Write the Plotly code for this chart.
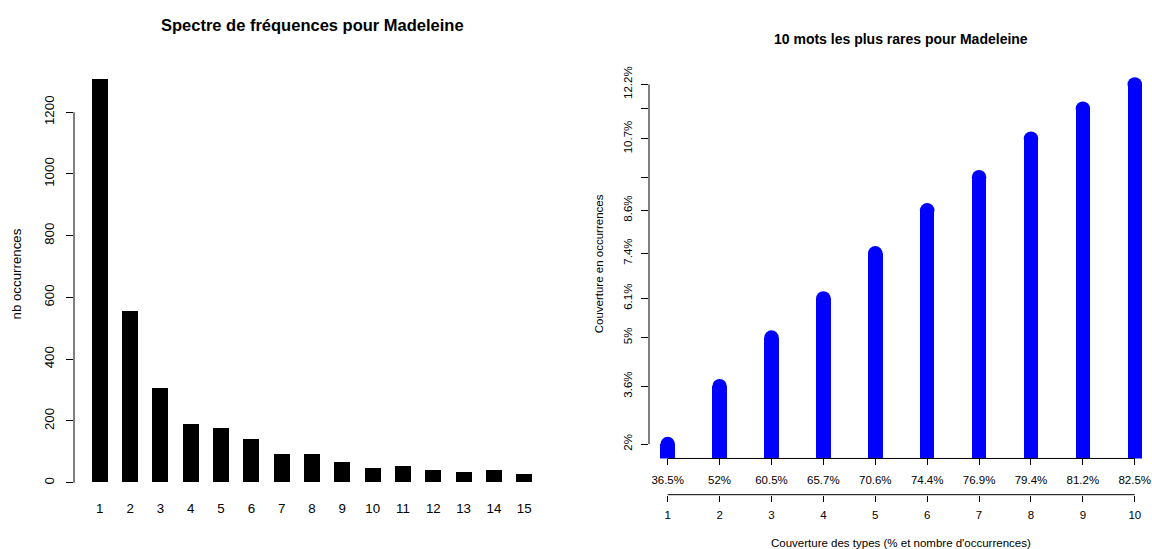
import plotly.graph_objects as go

W, H = 1152, 549

# ---------------- data ----------------
freq_categories = list(range(1, 16))
freq_counts = [1306, 555, 306, 188, 176, 140, 92, 93, 67, 48, 52, 41, 34, 40, 26]
freq_yticks = [0, 200, 400, 600, 800, 1000, 1200]

rare_ranks = list(range(1, 11))
rare_coverage_occ = [2.0, 3.64, 5.02, 6.13, 7.41, 8.63, 9.57, 10.66, 11.51, 12.2]
rare_ytick_labels = ["2%", "3.6%", "5%", "6.1%", "7.4%", "8.6%", "", "10.7%", "", "12.2%"]
rare_type_labels = ["36.5%", "52%", "60.5%", "65.7%", "70.6%", "74.4%", "76.9%", "79.4%", "81.2%", "82.5%"]
rare_rank_labels = [str(r) for r in rare_ranks]

FONT = "Liberation Sans, Arial, Helvetica, sans-serif"

def px_x(p):
    return p / W

def px_y(p):
    return (H - p) / H

fig = go.Figure()

# left: frequency spectrum bars
fig.add_trace(go.Bar(x=freq_categories, y=freq_counts, width=0.53,
                     marker=dict(color="black", line=dict(width=0)),
                     xaxis="x", yaxis="y", hoverinfo="skip", showlegend=False))

# right: rare words coverage (type="h" style with round caps)
fig.add_trace(go.Bar(x=rare_ranks, y=rare_coverage_occ, width=0.28,
                     marker=dict(color="#0000FF", line=dict(width=0)),
                     xaxis="x2", yaxis="y2", hoverinfo="skip", showlegend=False))
fig.add_trace(go.Scatter(x=rare_ranks, y=rare_coverage_occ, mode="markers",
                         marker=dict(color="#0000FF", size=14.5, line=dict(width=0)),
                         cliponaxis=False, xaxis="x2", yaxis="y2",
                         hoverinfo="skip", showlegend=False))
# invisible trace to carry the second x axis (ranks)
fig.add_trace(go.Scatter(x=rare_ranks, y=rare_coverage_occ, mode="markers",
                         marker=dict(opacity=0), xaxis="x3", yaxis="y2",
                         hoverinfo="skip", showlegend=False))

fmax = max(freq_counts)
rmin, rmax = min(rare_coverage_occ), max(rare_coverage_occ)
rspan = rmax - rmin

tickfont_l = dict(family=FONT, size=13.3, color="black")
tickfont_r = dict(family=FONT, size=11.5, color="black")

x2_range = [0.64, 10.332]
axis2_pos = px_y(494.3)

fig.update_layout(
    width=W, height=H, autosize=False,
    margin=dict(l=0, r=0, t=0, b=0),
    paper_bgcolor="white", plot_bgcolor="white",
    bargap=0,
    xaxis=dict(domain=[px_x(74), px_x(550)], range=[0.15, 15.85],
               tickvals=freq_categories, ticktext=[str(c) for c in freq_categories],
               ticks="", showline=False, showgrid=False, zeroline=False,
               tickfont=tickfont_l, ticklabelstandoff=0, anchor="y"),
    yaxis=dict(domain=[px_y(498.5), px_y(59.8)], range=[-0.04 * fmax, 1.04 * fmax],
               tickvals=freq_yticks, ticktext=[str(v) for v in freq_yticks],
               ticks="outside", ticklen=7, tickwidth=1, tickcolor="black",
               tickangle=-90, showline=False, showgrid=False, zeroline=False,
               tickfont=tickfont_l, ticklabelstandoff=7, anchor="x"),
    xaxis2=dict(domain=[px_x(649), 1.0], range=x2_range,
                tickvals=rare_ranks, ticktext=rare_type_labels,
                ticks="outside", ticklen=6, tickwidth=1, tickcolor="black",
                showline=False, showgrid=False, zeroline=False,
                tickfont=tickfont_r, ticklabelstandoff=5, anchor="y2"),
    xaxis3=dict(range=x2_range, overlaying="x2", anchor="free", position=axis2_pos,
                side="bottom", tickvals=rare_ranks, ticktext=rare_rank_labels,
                ticks="outside", ticklen=6, tickwidth=1, tickcolor="black",
                showline=False, showgrid=False, zeroline=False, tickfont=tickfont_r,
                ticklabelstandoff=4),
    yaxis2=dict(domain=[px_y(457.8), px_y(66.5)],
                range=[rmin - 0.04 * rspan, rmax + 0.04 * rspan],
                tickvals=rare_coverage_occ, ticktext=rare_ytick_labels,
                ticks="outside", ticklen=7, tickwidth=1, tickcolor="black",
                tickangle=-90, showline=False, showgrid=False, zeroline=False,
                tickfont=tickfont_r, ticklabelstandoff=4, anchor="x2"),
)

line = dict(color="black", width=1)
fig.add_shape(type="line", xref="x domain", yref="y", x0=0, x1=0,
              y0=min(freq_yticks), y1=max(freq_yticks), line=line)
fig.add_shape(type="line", xref="x2 domain", yref="y2", x0=0, x1=0,
              y0=rmin, y1=rmax, line=line)
fig.add_shape(type="line", xref="x2", yref="y2 domain", x0=min(rare_ranks), x1=max(rare_ranks),
              y0=0, y1=0, line=line)
fig.add_shape(type="line", xref="x2", yref="paper", x0=min(rare_ranks), x1=max(rare_ranks),
              y0=axis2_pos, y1=axis2_pos, line=line)

ann = [
    dict(text="<b>Spectre de fréquences pour Madeleine</b>", x=px_x(312), y=px_y(21),
         font=dict(family=FONT, size=16.5, color="black")),
    dict(text="<b>10 mots les plus rares pour Madeleine</b>", x=px_x(901), y=px_y(35.5),
         font=dict(family=FONT, size=14, color="black")),
    dict(text="nb occurrences", x=px_x(16.5), y=px_y(272), textangle=-90,
         font=dict(family=FONT, size=13.3, color="black")),
    dict(text="Couverture en occurrences", x=px_x(599), y=px_y(262.2), textangle=-90,
         font=dict(family=FONT, size=11.5, color="black")),
    dict(text="Couverture des types (% et nombre d'occurrences)", x=px_x(901), y=px_y(543),
         font=dict(family=FONT, size=11.5, color="black")),
]
for a in ann:
    fig.add_annotation(xref="paper", yref="paper", xanchor="center", yanchor="middle",
                       showarrow=False, **a)

fig.write_html("out.html", config={"displayModeBar": False},
               post_script="document.body.style.margin='0';document.body.style.overflow='hidden';")
